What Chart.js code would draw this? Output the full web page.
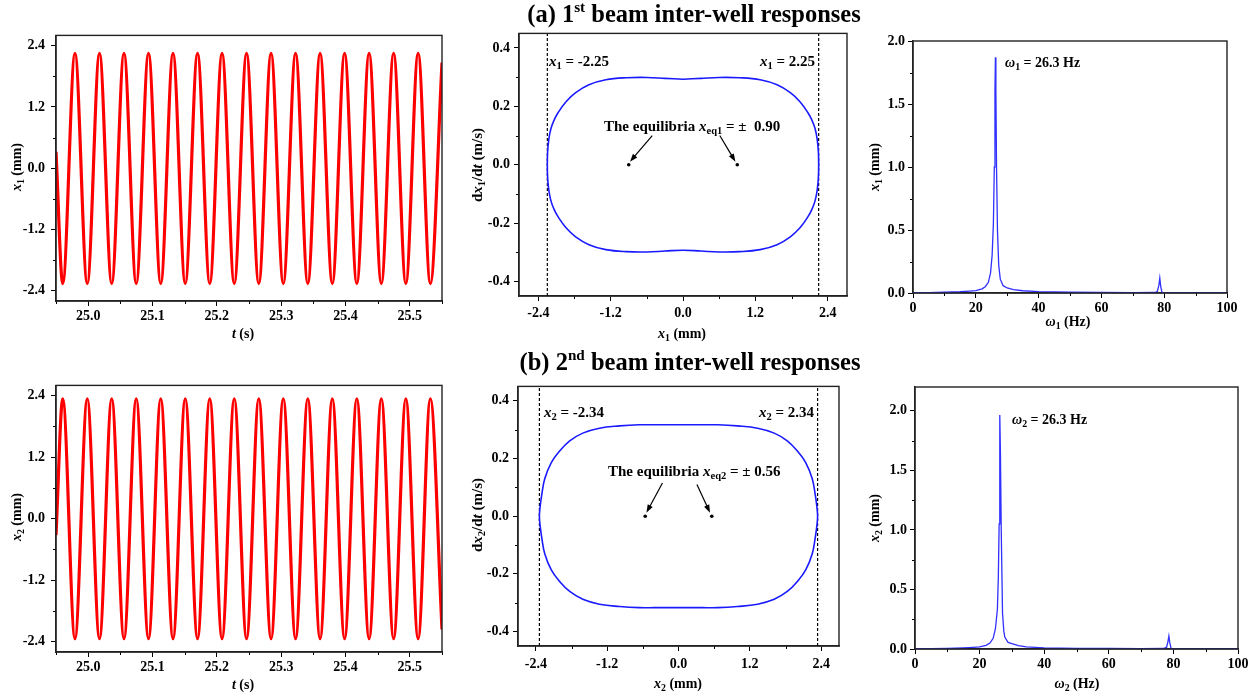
<!DOCTYPE html>
<html>
<head>
<meta charset="utf-8">
<script src="https://cdn.jsdelivr.net/npm/chart.js"></script>
<style>
  body { margin: 0; background: #fff; }
  #wrap { position: relative; width: 1257px; height: 698px; overflow: hidden; background: #fff; }
  canvas { position: absolute; }
  .t { position: absolute; font-family: 'Liberation Serif', 'Times New Roman', serif; font-weight: bold;
       font-size: 14px; line-height: 1; white-space: nowrap; color: #000; z-index: 2; }
  .c { transform: translate(-50%, -50%); }
  .l { transform: translate(0, -50%); }
  .r { transform: translate(-100%, -50%); }
  .rot { transform: translate(-50%, -50%) rotate(-90deg); }
  .t sub { font-size: 70%; vertical-align: baseline; position: relative; top: 0.3em; }
  .t sup { font-size: 62%; vertical-align: baseline; position: relative; top: -0.65em; }
  .ttl { font-size: 24.5px; }
</style>
</head>
<body>
<div id="wrap">
  <canvas id="p1"></canvas><canvas id="p2"></canvas><canvas id="p3"></canvas>
  <canvas id="p4"></canvas><canvas id="p5"></canvas><canvas id="p6"></canvas>

  <div class="t ttl c" style="left:694px;top:14px">(a) 1<sup>st</sup> beam inter-well responses</div>
  <div class="t ttl c" style="left:690px;top:362px">(b) 2<sup>nd</sup> beam inter-well responses</div>

  <div class="t rot" style="left:17px;top:167px"><i>x</i><sub>1</sub> (mm)</div>
  <div class="t c" style="left:243px;top:334px"><i>t</i> (s)</div>
  <div class="t rot" style="left:17px;top:517px"><i>x</i><sub>2</sub> (mm)</div>
  <div class="t c" style="left:243px;top:685px"><i>t</i> (s)</div>

  <div class="t rot" style="left:477px;top:165px;font-size:15px">d<i>x</i><sub>1</sub>/d<i>t</i> (m/s)</div>
  <div class="t c" style="left:682px;top:334px"><i>x</i><sub>1</sub> (mm)</div>
  <div class="t rot" style="left:477px;top:515px;font-size:15px">d<i>x</i><sub>2</sub>/d<i>t</i> (m/s)</div>
  <div class="t c" style="left:678px;top:684px"><i>x</i><sub>2</sub> (mm)</div>

  <div class="t rot" style="left:875px;top:167px"><i>x</i><sub>1</sub> (mm)</div>
  <div class="t c" style="left:1068px;top:322px"><i>ω</i><sub>1</sub> (Hz)</div>
  <div class="t rot" style="left:875px;top:518px"><i>x</i><sub>2</sub> (mm)</div>
  <div class="t c" style="left:1077px;top:684px"><i>ω</i><sub>2</sub> (Hz)</div>

  <div class="t l" style="left:549px;top:61px;font-size:15px"><i>x</i><sub>1</sub> = -2.25</div>
  <div class="t r" style="left:815px;top:61px;font-size:15px"><i>x</i><sub>1</sub> = 2.25</div>
  <div class="t l" style="left:604px;top:126px;font-size:15px">The equilibria <i>x</i><sub>eq1</sub> = ±&nbsp; 0.90</div>
  <div class="t l" style="left:544px;top:412px;font-size:15px"><i>x</i><sub>2</sub> = -2.34</div>
  <div class="t r" style="left:814px;top:412px;font-size:15px"><i>x</i><sub>2</sub> = 2.34</div>
  <div class="t l" style="left:608px;top:471px;font-size:15px">The equilibria <i>x</i><sub>eq2</sub> = ± 0.56</div>

  <div class="t l" style="left:1005px;top:63px;font-size:14px"><i>ω</i><sub>1</sub> = 26.3 Hz</div>
  <div class="t l" style="left:1012px;top:420px;font-size:14px"><i>ω</i><sub>2</sub> = 26.3 Hz</div>
</div>

<script>
// ---- data ----
// time series: start, successive extrema, end
const timeS = [24.95,
  24.9605, 24.9795, 24.9986, 25.0176, 25.0366, 25.0557, 25.0747, 25.0938,
  25.1128, 25.1319, 25.1509, 25.1700, 25.1890, 25.2081, 25.2271, 25.2462,
  25.2652, 25.2843, 25.3033, 25.3224, 25.3414, 25.3605, 25.3795, 25.3986,
  25.4176, 25.4367, 25.4557, 25.4748, 25.4938, 25.5129, 25.5319,
  25.55];
const beam1X = [0.32,
  -2.26, 2.25, -2.26, 2.25, -2.26, 2.25, -2.26, 2.25,
  -2.26, 2.25, -2.26, 2.25, -2.26, 2.25, -2.26, 2.25,
  -2.26, 2.25, -2.26, 2.25, -2.26, 2.25, -2.26, 2.25,
  -2.26, 2.25, -2.26, 2.25, -2.26, 2.25, -2.26,
  2.07];
const beam2X = [-0.32,
  2.34, -2.34, 2.34, -2.34, 2.34, -2.34, 2.34, -2.34,
  2.34, -2.34, 2.34, -2.34, 2.34, -2.34, 2.34, -2.34,
  2.34, -2.34, 2.34, -2.34, 2.34, -2.34, 2.34, -2.34,
  2.34, -2.34, 2.34, -2.34, 2.34, -2.34, 2.34,
  -2.16];

// phase orbits, clockwise from top centre
const orbit1X = [0, 0.3, 0.6, 0.94, 1.28, 1.56, 1.78, 1.94, 2.07, 2.14, 2.19, 2.225, 2.245,
  2.25, 2.245, 2.225, 2.19, 2.14, 2.07, 1.94, 1.78, 1.56, 1.28, 0.94, 0.6, 0.3,
  0, -0.3, -0.6, -0.94, -1.28, -1.56, -1.78, -1.94, -2.07, -2.14, -2.19, -2.225, -2.245,
  -2.25, -2.245, -2.225, -2.19, -2.14, -2.07, -1.94, -1.78, -1.56, -1.28, -0.94, -0.6, -0.3, 0];
const orbit1V = [0.293, 0.296, 0.299, 0.298, 0.291, 0.274, 0.247, 0.216, 0.179, 0.152, 0.124, 0.088, 0.045,
  0, -0.045, -0.088, -0.124, -0.152, -0.179, -0.216, -0.247, -0.274, -0.291, -0.298, -0.299, -0.296,
  -0.293, -0.296, -0.299, -0.298, -0.291, -0.274, -0.247, -0.216, -0.179, -0.152, -0.124, -0.088, -0.045,
  0, 0.045, 0.088, 0.124, 0.152, 0.179, 0.216, 0.247, 0.274, 0.291, 0.298, 0.299, 0.296, 0.293];
const orbit2X = [0, 0.4, 0.66, 0.99, 1.33, 1.61, 1.83, 2.0, 2.14, 2.25, 2.30, 2.325,
  2.34, 2.325, 2.30, 2.25, 2.14, 2.0, 1.83, 1.61, 1.33, 0.99, 0.66, 0.4,
  0, -0.4, -0.66, -0.99, -1.33, -1.61, -1.83, -2.0, -2.14, -2.25, -2.30, -2.325,
  -2.34, -2.325, -2.30, -2.25, -2.14, -2.0, -1.83, -1.61, -1.33, -0.99, -0.66, -0.4, 0];
const orbit2V = [0.317, 0.317, 0.317, 0.313, 0.305, 0.288, 0.261, 0.226, 0.186, 0.130, 0.075, 0.038,
  0, -0.038, -0.075, -0.130, -0.186, -0.226, -0.261, -0.288, -0.305, -0.313, -0.317, -0.317,
  -0.317, -0.317, -0.317, -0.313, -0.305, -0.288, -0.261, -0.226, -0.186, -0.130, -0.075, -0.038,
  0, 0.038, 0.075, 0.130, 0.186, 0.226, 0.261, 0.288, 0.305, 0.313, 0.317, 0.317, 0.317];
const bounds1 = [-2.25, 2.25];
const bounds2 = [-2.34, 2.34];
const equil1 = [-0.90, 0.90];
const equil2 = [-0.56, 0.56];

// amplitude spectra
const freq1 = [0, 5, 10, 15, 18, 20, 22, 23, 24, 24.7, 25.2, 25.6, 25.9, 26.1, 26.25, 26.4, 26.6, 26.9,
  27.3, 27.8, 28.7, 30, 32, 35, 40, 50, 60, 70, 77, 77.8, 78.3, 78.6, 78.9, 79.3, 80, 90, 100];
const amp1 = [0.002, 0.003, 0.006, 0.010, 0.015, 0.019, 0.033, 0.050, 0.085, 0.160, 0.300, 0.550, 1.000, 1.600, 1.870, 1.600, 1.000, 0.500,
  0.220, 0.110, 0.058, 0.040, 0.026, 0.018, 0.011, 0.006, 0.004, 0.003, 0.004, 0.012, 0.060, 0.119, 0.050, 0.004, 0.002, 0.001, 0.001];
const freq2 = [0, 5, 10, 15, 18, 20, 22, 23.2, 24.2, 24.9, 25.5, 25.8, 26.05, 26.2, 26.3, 26.45, 26.7, 27.1,
  27.5, 27.8, 28.8, 30, 32, 34.5, 40, 50, 60, 70, 77, 77.9, 78.3, 78.6, 78.9, 79.3, 80, 90, 100];
const amp2 = [0.002, 0.003, 0.006, 0.010, 0.014, 0.017, 0.030, 0.050, 0.090, 0.170, 0.330, 0.600, 1.050, 1.650, 1.964, 1.650, 1.000, 0.300,
  0.150, 0.100, 0.055, 0.045, 0.028, 0.017, 0.010, 0.006, 0.004, 0.003, 0.004, 0.015, 0.060, 0.109, 0.050, 0.004, 0.002, 0.001, 0.001];

// ticks
const timeTicks = [25.0, 25.1, 25.2, 25.3, 25.4, 25.5];
const timeLabels = ['25.0', '25.1', '25.2', '25.3', '25.4', '25.5'];
const timeMinor = [24.95, 25.05, 25.15, 25.25, 25.35, 25.45, 25.55];
const dispTicks = [-2.4, -1.2, 0, 1.2, 2.4];
const dispLabels = ['-2.4', '-1.2', '0.0', '1.2', '2.4'];
const dispMinor = [-1.8, -0.6, 0.6, 1.8];
const velTicks = [-0.4, -0.2, 0, 0.2, 0.4];
const velLabels = ['-0.4', '-0.2', '0.0', '0.2', '0.4'];
const velMinor = [-0.3, -0.1, 0.1, 0.3];
const freqTicks = [0, 20, 40, 60, 80, 100];
const freqLabels = ['0', '20', '40', '60', '80', '100'];
const freqMinor = [10, 30, 50, 70, 90];
const ampTicks = [0, 0.5, 1.0, 1.5, 2.0];
const ampLabels = ['0.0', '0.5', '1.0', '1.5', '2.0'];
const ampMinor = [0.25, 0.75, 1.25, 1.75];

Chart.defaults.font.family = "'Liberation Serif', 'Times New Roman', serif";
Chart.defaults.font.size = 14;
Chart.defaults.font.weight = 'bold';
Chart.defaults.color = '#000';

const pts = (xs, ys) => xs.map((x, i) => ({ x: x, y: ys[i] }));

const framePlugin = {
  id: 'frame',
  afterDatasetsDraw(chart, args, opts) {
    const { ctx, chartArea: a, scales } = chart;
    ctx.save();
    // arrows
    (opts.arrows || []).forEach(ar => {
      const x0 = scales.x.getPixelForValue(ar[0]), y0 = scales.y.getPixelForValue(ar[1]);
      const x1 = scales.x.getPixelForValue(ar[2]), y1 = scales.y.getPixelForValue(ar[3]);
      const ang = Math.atan2(y1 - y0, x1 - x0);
      ctx.strokeStyle = '#000'; ctx.fillStyle = '#000'; ctx.lineWidth = 1.2;
      ctx.beginPath(); ctx.moveTo(x0, y0);
      ctx.lineTo(x1 - 6 * Math.cos(ang), y1 - 6 * Math.sin(ang)); ctx.stroke();
      ctx.beginPath(); ctx.moveTo(x1, y1);
      ctx.lineTo(x1 - 8 * Math.cos(ang) + 2.8 * Math.sin(ang), y1 - 8 * Math.sin(ang) - 2.8 * Math.cos(ang));
      ctx.lineTo(x1 - 8 * Math.cos(ang) - 2.8 * Math.sin(ang), y1 - 8 * Math.sin(ang) + 2.8 * Math.cos(ang));
      ctx.closePath(); ctx.fill();
    });
    // minor ticks
    ctx.strokeStyle = '#000'; ctx.lineWidth = 1;
    (opts.xMinor || []).forEach(v => {
      const px = Math.round(scales.x.getPixelForValue(v)) + 0.5;
      ctx.beginPath(); ctx.moveTo(px, a.bottom); ctx.lineTo(px, a.bottom + 3); ctx.stroke();
    });
    (opts.yMinor || []).forEach(v => {
      const py = Math.round(scales.y.getPixelForValue(v)) + 0.5;
      ctx.beginPath(); ctx.moveTo(a.left - 3, py); ctx.lineTo(a.left, py); ctx.stroke();
    });
    // box
    ctx.strokeStyle = '#222'; ctx.lineWidth = 1.4;
    ctx.strokeRect(a.left, a.top, a.right - a.left, a.bottom - a.top);
    ctx.restore();
  }
};

function axis(min, max, major, labels, pad, size, horizontal) {
  return {
    type: 'linear', min: min, max: max,
    afterBuildTicks: s => { s.ticks = major.map(v => ({ value: v })); },
    afterFit: s => { if (horizontal) s.height = size; else s.width = size; },
    ticks: { autoSkip: false, maxRotation: 0, padding: pad, callback: (v, i) => labels[i] },
    grid: { drawOnChartArea: false, drawTicks: true, tickLength: 5, color: '#000', lineWidth: 1 },
    border: { display: true, color: '#222', width: 1.4 }
  };
}

function makePanel(id, area, datasets, xAxis, yAxis, extra) {
  const padL = 60, padT = 12, padR = 24, padB = 40;
  const cv = document.getElementById(id);
  cv.width = area.r - area.l + padL + padR;
  cv.height = area.b - area.t + padT + padB;
  cv.style.left = (area.l - padL) + 'px';
  cv.style.top = (area.t - padT) + 'px';
  new Chart(cv, {
    type: 'scatter',
    data: { datasets: datasets },
    options: {
      responsive: false, animation: false,
      layout: { padding: { left: 0, top: padT, right: padR, bottom: 0 } },
      plugins: { legend: { display: false }, tooltip: { enabled: false }, frame: extra },
      scales: { x: xAxis, y: yAxis }
    },
    plugins: [framePlugin]
  });
}

function timeSet(ys) {
  return [{ data: pts(timeS, ys), showLine: true, borderColor: '#ff0000', borderWidth: 3.2,
            pointRadius: 0, cubicInterpolationMode: 'monotone' }];
}
function orbitSet(xs, vs, bounds, equil, vmax) {
  return [
    { data: pts(xs, vs), showLine: true, borderColor: '#1a1aff', borderWidth: 1.6, pointRadius: 0, tension: 0.4 },
    { data: [{ x: bounds[0], y: -vmax }, { x: bounds[0], y: vmax }], showLine: true, borderColor: '#000',
      borderWidth: 1.2, borderDash: [3, 2], pointRadius: 0 },
    { data: [{ x: bounds[1], y: -vmax }, { x: bounds[1], y: vmax }], showLine: true, borderColor: '#000',
      borderWidth: 1.2, borderDash: [3, 2], pointRadius: 0 },
    { data: equil.map(e => ({ x: e, y: 0 })), pointRadius: 1.8, pointBackgroundColor: '#000', pointBorderWidth: 0 }
  ];
}
function specSet(fs, as) {
  return [{ data: pts(fs, as), showLine: true, borderColor: '#3030ff', borderWidth: 1.3, pointRadius: 0 }];
}

// row (a)
makePanel('p1', { l: 56, t: 33, r: 442, b: 301 }, timeSet(beam1X),
  axis(24.95, 25.55, timeTicks, timeLabels, 2, 40, true),
  axis(-2.6, 2.6, dispTicks, dispLabels, 6, 60, false),
  { xMinor: timeMinor, yMinor: dispMinor });
makePanel('p2', { l: 519, t: 33, r: 847, b: 296 }, orbitSet(orbit1X, orbit1V, bounds1, equil1, 0.45),
  axis(-2.72, 2.72, dispTicks, dispLabels, 4, 40, true),
  axis(-0.45, 0.45, velTicks, velLabels, 4, 60, false),
  { xMinor: dispMinor, yMinor: velMinor, arrows: [[-0.51, 0.10, -0.88, 0.01], [0.61, 0.10, 0.87, 0.01]] });
makePanel('p3', { l: 913, t: 41, r: 1227, b: 293 }, specSet(freq1, amp1),
  axis(0, 100, freqTicks, freqLabels, 2, 40, true),
  axis(0, 2.0, ampTicks, ampLabels, 3, 60, false),
  { xMinor: freqMinor, yMinor: ampMinor });

// row (b)
makePanel('p4', { l: 56, t: 383, r: 442, b: 652 }, timeSet(beam2X),
  axis(24.95, 25.55, timeTicks, timeLabels, 2, 40, true),
  axis(-2.6, 2.6, dispTicks, dispLabels, 6, 60, false),
  { xMinor: timeMinor, yMinor: dispMinor });
makePanel('p5', { l: 518, t: 386, r: 839, b: 646 }, orbitSet(orbit2X, orbit2V, bounds2, equil2, 0.45),
  axis(-2.7, 2.7, dispTicks, dispLabels, 5, 40, true),
  axis(-0.45, 0.45, velTicks, velLabels, 4, 60, false),
  { xMinor: dispMinor, yMinor: velMinor, arrows: [[-0.27, 0.115, -0.54, 0.012], [0.31, 0.11, 0.53, 0.012]] });
makePanel('p6', { l: 915, t: 387, r: 1238, b: 649 }, specSet(freq2, amp2),
  axis(0, 100, freqTicks, freqLabels, 2, 40, true),
  axis(0, 2.2, ampTicks, ampLabels, 3, 60, false),
  { xMinor: freqMinor, yMinor: ampMinor });
</script>
</body>
</html>
